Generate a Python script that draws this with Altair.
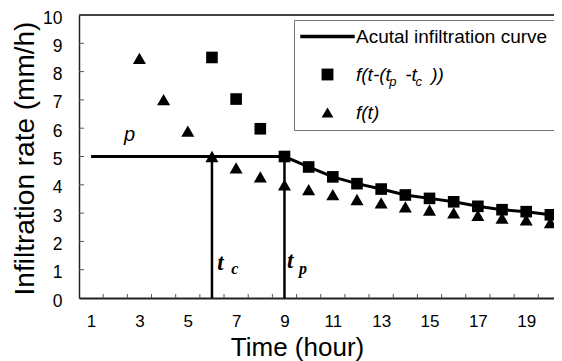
import altair as alt
import pandas as pd

# ---------------- data ----------------
hours = [1, 2, 3, 4, 5, 6, 7, 8, 9, 10, 11, 12, 13, 14, 15, 16, 17, 18, 19, 20]
actual_rate = [5.0, 5.0, 5.0, 5.0, 5.0, 5.0, 5.0, 5.0, 5.0, 4.63, 4.28, 4.04,
               3.85, 3.64, 3.52, 3.40, 3.24, 3.12, 3.05, 2.94]

shifted_hours = [6, 7, 8, 9, 10, 11, 12, 13, 14, 15, 16, 17, 18, 19, 20]
shifted_rate = [8.5, 7.03, 5.98, 5.0, 4.63, 4.28, 4.04, 3.85, 3.64, 3.52,
                3.40, 3.24, 3.12, 3.05, 2.94]

ft_hours = [3, 4, 5, 6, 7, 8, 9, 10, 11, 12, 13, 14, 15, 16, 17, 18, 19, 20]
ft_rate = [8.47, 7.01, 5.9, 5.0, 4.6, 4.28, 4.0, 3.83, 3.65, 3.48, 3.36,
           3.22, 3.11, 3.01, 2.92, 2.82, 2.76, 2.66]

# gaps (thin space + no-break spaces) leave room for the subscripts p and c
series_names = ["Acutal infiltration curve",
                "f(t-(t\u2009\u00a0\u00a0-t\u2009\u00a0\u00a0))",
                "f(t)"]

x_label_values = [1, 3, 5, 7, 9, 11, 13, 15, 17, 19]
x_minor_ticks = [1.5, 2.5, 3.5, 4.5, 5.5, 6.5, 7.5, 8.5, 9.5, 10.5, 11.5,
                 12.5, 13.5, 14.5, 15.5, 16.5, 17.5, 18.5, 19.5]
y_label_values = [0, 1, 2, 3, 4, 5, 6, 7, 8, 9, 10]
y_minor_ticks = [1, 2, 3, 4, 5, 6, 7, 8, 9]

marker_times = [6, 9]          # t_c, t_p
ponding_rate = 5               # p
frame_top = [10]

# ---------------- tables ----------------
df_line = pd.DataFrame({"t": hours, "v": actual_rate})
df_pts = pd.concat([
    pd.DataFrame({"t": shifted_hours, "v": shifted_rate, "series": series_names[1]}),
    pd.DataFrame({"t": ft_hours, "v": ft_rate, "series": series_names[2]}),
])
df_vert = pd.DataFrame({"t": marker_times, "v": [0, 0], "hi": [ponding_rate, ponding_rate]})
df_xt = pd.DataFrame({"t": x_minor_ticks})
df_yt = pd.DataFrame({"v": y_minor_ticks})
df_top = pd.DataFrame({"v": frame_top})

df_t = pd.DataFrame({"t": [6.22, 9.1], "v": [0.99, 1.06], "text": ["t", "t"]})
df_tsub = pd.DataFrame({"t": [6.8, 9.6], "v": [0.85, 0.85], "text": ["c", "p"]})
df_p = pd.DataFrame({"t": [2.36], "v": [5.55], "text": ["p"]})
df_lsub = pd.DataFrame({"t": [13.33, 14.42], "v": [7.5, 7.5], "text": ["p", "c"]})

# ---------------- scales / axes ----------------
W, H = 475, 283
xs = alt.Scale(domain=[0.5, 20.15], nice=False, zero=False)
ys = alt.Scale(domain=[0, 10], nice=False, zero=False)
FONT = "Liberation Sans"

x_axis = alt.Axis(
    values=x_label_values, title="Time (hour)", grid=False, ticks=False, tickSize=0,
    labelFontSize=17, labelFont=FONT, labelColor="black", labelPadding=15,
    labelFlush=False, labelOverlap=False,
    domainColor="#222222", domainWidth=2,
    titleFont=FONT, titleFontSize=26, titleFontWeight="normal", titleColor="black",
    titleX=218, titleY=57, titleBaseline="alphabetic", titleAnchor="middle",
)
y_axis = alt.Axis(
    values=y_label_values, title="Infiltration rate (mm/h)", grid=False, ticks=False,
    tickSize=0, labelFontSize=17.5, labelFont=FONT, labelColor="black",
    labelPadding=17, labelOffset=3, labelFlush=False, labelOverlap=False,
    domainColor="#222222", domainWidth=1.5,
    titleFont=FONT, titleFontSize=28, titleFontWeight="normal", titleColor="black",
    titleX=-45.5, titleY=143, titleBaseline="alphabetic", titleAngle=270,
)

legend = alt.Legend(
    title=None, orient="none", legendX=215, legendY=5,
    strokeColor="#777777", padding=7,
    labelFont=FONT, labelFontSize=19, labelColor="black", labelLimit=400,
    labelFontStyle={"expr": "datum.value == 'Acutal infiltration curve' ? 'normal' : 'italic'"},
    symbolFillColor="black", symbolStrokeWidth=0,
    symbolSize=140, symbolOffset=17, labelOffset=19, rowPadding=18,
)

# long thin filled bar used as the legend key of the solid curve
line_path = "M-4.6,-0.3L4.6,-0.3L4.6,0.3L-4.6,0.3Z"

X = alt.X("t:Q", scale=xs, axis=x_axis)
Y = alt.Y("v:Q", scale=ys, axis=y_axis)

line = alt.Chart(df_line).mark_line(color="black", strokeWidth=3).encode(x=X, y=Y)

vert = alt.Chart(df_vert).mark_rule(color="black", strokeWidth=2.5).encode(
    x=X, y=Y, y2="hi"
)

points = alt.Chart(df_pts).mark_point(filled=True, color="black", opacity=1).encode(
    x=X, y=Y,
    shape=alt.Shape("series:N",
                    scale=alt.Scale(domain=series_names,
                                    range=[line_path, "square", "triangle-up"]),
                    legend=legend),
    size=alt.condition(alt.datum.series == "f(t)", alt.value(170), alt.value(135)),
)

top = alt.Chart(df_top).mark_rule(color="#444444", strokeWidth=2).encode(y=Y)

xticks = alt.Chart(df_xt).mark_rule(color="#555555", strokeWidth=1).encode(
    x=X, y=alt.value(H), y2=alt.value(H - 4)
)
yticks = alt.Chart(df_yt).mark_rule(color="#555555", strokeWidth=1).encode(
    y=Y, x=alt.value(0), x2=alt.value(5)
)

t_big = alt.Chart(df_t).mark_text(
    font="Liberation Serif", fontSize=23, fontStyle="italic", fontWeight="bold",
    align="left", baseline="alphabetic", color="black"
).encode(x=X, y=Y, text="text:N")
t_sub = alt.Chart(df_tsub).mark_text(
    font="Liberation Serif", fontSize=16, fontStyle="italic", fontWeight="bold",
    align="left", baseline="alphabetic", color="black"
).encode(x=X, y=Y, text="text:N")
p_lab = alt.Chart(df_p).mark_text(
    font=FONT, fontSize=20, fontStyle="italic", align="left",
    baseline="alphabetic", color="black"
).encode(x=X, y=Y, text="text:N")
leg_sub = alt.Chart(df_lsub).mark_text(
    font=FONT, fontSize=13, fontStyle="italic", align="left",
    baseline="alphabetic", color="black"
).encode(x=X, y=Y, text="text:N")

chart = alt.layer(
    line, vert, points, top, xticks, yticks, t_big, t_sub, p_lab, leg_sub
).properties(
    width=W, height=H,
    autosize=alt.AutoSizeParams(type="none"),
    padding={"left": 71, "top": 7, "right": 0, "bottom": 63},
    background="white",
).configure_view(stroke=None).configure_legend(strokeWidth=1)

chart.save("out.html", embed_options={"renderer": "svg", "actions": False})
